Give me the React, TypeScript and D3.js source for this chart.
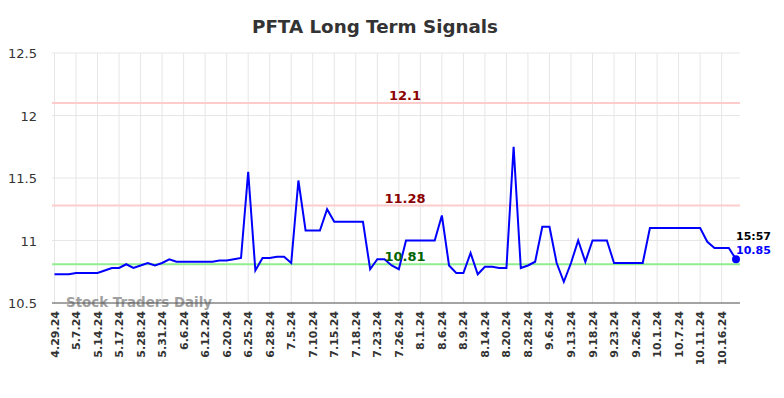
import * as d3 from "d3";
import React, { useEffect, useRef } from "react";

const tickLabels = [
  "4.29.24", "5.7.24", "5.14.24", "5.17.24", "5.28.24", "5.31.24", "6.6.24", "6.12.24",
  "6.20.24", "6.25.24", "6.28.24", "7.5.24", "7.10.24", "7.15.24", "7.18.24", "7.23.24",
  "7.26.24", "8.1.24", "8.6.24", "8.9.24", "8.14.24", "8.20.24", "8.28.24", "9.6.24",
  "9.13.24", "9.18.24", "9.23.24", "9.26.24", "10.1.24", "10.7.24", "10.11.24", "10.16.24",
];

const prices = [
  10.73, 10.73, 10.73, 10.74, 10.74, 10.74, 10.74, 10.76, 10.78, 10.78,
  10.81, 10.78, 10.8, 10.82, 10.8, 10.82, 10.85, 10.83, 10.83, 10.83,
  10.83, 10.83, 10.83, 10.84, 10.84, 10.85, 10.86, 11.55, 10.76, 10.86,
  10.86, 10.87, 10.87, 10.82, 11.48, 11.08, 11.08, 11.08, 11.25, 11.15,
  11.15, 11.15, 11.15, 11.15, 10.77, 10.85, 10.85, 10.8, 10.77, 11.0,
  11.0, 11.0, 11.0, 11.0, 11.2, 10.8, 10.74, 10.74, 10.9, 10.73,
  10.79, 10.79, 10.78, 10.78, 11.75, 10.78, 10.8, 10.83, 11.11, 11.11,
  10.82, 10.67, 10.82, 11.0, 10.83, 11.0, 11.0, 11.0, 10.82, 10.82,
  10.82, 10.82, 10.82, 11.1, 11.1, 11.1, 11.1, 11.1, 11.1, 11.1,
  11.1, 10.99, 10.94, 10.94, 10.94, 10.85,
];

const yTicks = [10.5, 11, 11.5, 12, 12.5];
const resistanceLevels = [12.1, 11.28];
const supportLevel = 10.81;
const lastTime = "15:57";

const W = 784;
const H = 398;

export default function App() {
  const ref = useRef<SVGSVGElement>(null);

  useEffect(() => {
    if (!ref.current) return;
    const svg = d3.select(ref.current);
    svg.selectAll("*").remove();

    const left = 52;
    const right = 740;
    const top = 53;
    const bottom = 303;
    const font = "DejaVu Sans, sans-serif";

    const x = d3.scaleLinear().domain([0, prices.length - 1]).range([54.5, 736]);
    const y = d3.scaleLinear().domain([10.5, 12.5]).range([bottom, top]);

    const tickIdx = tickLabels.map((_, i) => i * 3);

    // grid
    svg.append("g")
      .selectAll("line")
      .data(tickIdx)
      .join("line")
      .attr("x1", (d) => x(d))
      .attr("x2", (d) => x(d))
      .attr("y1", top)
      .attr("y2", bottom)
      .attr("stroke", "#e6e6e6")
      .attr("stroke-width", 1);

    svg.append("g")
      .selectAll("line")
      .data(yTicks)
      .join("line")
      .attr("x1", left)
      .attr("x2", right)
      .attr("y1", (d) => y(d))
      .attr("y2", (d) => y(d))
      .attr("stroke", "#e6e6e6")
      .attr("stroke-width", 1);

    // y labels
    svg.append("g")
      .selectAll("text")
      .data(yTicks)
      .join("text")
      .attr("x", 37)
      .attr("y", (d) => y(d) + 5)
      .attr("text-anchor", "end")
      .attr("font-family", font)
      .attr("font-size", 13)
      .attr("fill", "#333")
      .text((d) => String(d));

    // x labels
    svg.append("g")
      .selectAll("text")
      .data(tickLabels)
      .join("text")
      .attr("transform", (_, i) => `translate(${x(tickIdx[i]) + 4},${311}) rotate(-90)`)
      .attr("text-anchor", "end")
      .attr("font-family", font)
      .attr("font-size", 11)
      .attr("font-weight", "bold")
      .attr("fill", "#333")
      .text((d) => d);

    // watermark
    svg.append("text")
      .attr("x", 66)
      .attr("y", 307)
      .attr("font-family", font)
      .attr("font-size", 13.4)
      .attr("font-weight", "bold")
      .attr("fill", "#a0a0a0")
      .text("Stock Traders Daily");

    // bottom axis line
    svg.append("line")
      .attr("x1", left)
      .attr("x2", right)
      .attr("y1", bottom)
      .attr("y2", bottom)
      .attr("stroke", "#555")
      .attr("stroke-width", 1);

    // level lines
    resistanceLevels.forEach((lv) => {
      svg.append("line")
        .attr("x1", left)
        .attr("x2", right)
        .attr("y1", y(lv))
        .attr("y2", y(lv))
        .attr("stroke", "#ffcccc")
        .attr("stroke-width", 2);
    });
    svg.append("line")
      .attr("x1", left)
      .attr("x2", right)
      .attr("y1", y(supportLevel))
      .attr("y2", y(supportLevel))
      .attr("stroke", "#90ee90")
      .attr("stroke-width", 2);

    // price line
    const line = d3.line<number>()
      .x((_, i) => x(i))
      .y((d) => y(d));
    svg.append("path")
      .datum(prices)
      .attr("fill", "none")
      .attr("stroke", "#0000ff")
      .attr("stroke-width", 2)
      .attr("d", line);

    // level labels
    resistanceLevels.forEach((lv) => {
      svg.append("text")
        .attr("x", 405)
        .attr("y", y(lv) - 3)
        .attr("text-anchor", "middle")
        .attr("font-family", font)
        .attr("font-size", 13)
        .attr("font-weight", "bold")
        .attr("fill", "#8b0000")
        .text(String(lv));
    });
    svg.append("text")
      .attr("x", 405)
      .attr("y", y(supportLevel) - 3)
      .attr("text-anchor", "middle")
      .attr("font-family", font)
      .attr("font-size", 13)
      .attr("font-weight", "bold")
      .attr("fill", "#006400")
      .text(String(supportLevel));

    // last point
    const li = prices.length - 1;
    svg.append("circle")
      .attr("cx", x(li))
      .attr("cy", y(prices[li]))
      .attr("r", 4)
      .attr("fill", "#0000ff");
    svg.append("text")
      .attr("x", x(li))
      .attr("y", y(prices[li]) - 19)
      .attr("font-family", font)
      .attr("font-size", 11)
      .attr("font-weight", "bold")
      .attr("fill", "#000")
      .text(lastTime);
    svg.append("text")
      .attr("x", x(li))
      .attr("y", y(prices[li]) - 5)
      .attr("font-family", font)
      .attr("font-size", 11)
      .attr("font-weight", "bold")
      .attr("fill", "#0000ff")
      .text(prices[li].toFixed(2));

    // title
    svg.append("text")
      .attr("x", 375)
      .attr("y", 33)
      .attr("text-anchor", "middle")
      .attr("font-family", font)
      .attr("font-size", 18.3)
      .attr("font-weight", "bold")
      .attr("fill", "#333")
      .text("PFTA Long Term Signals");
  }, []);

  return (
    <svg
      ref={ref}
      width={W}
      height={H}
      style={{ position: "absolute", left: 0, top: 0, background: "#fff" }}
    />
  );
}
